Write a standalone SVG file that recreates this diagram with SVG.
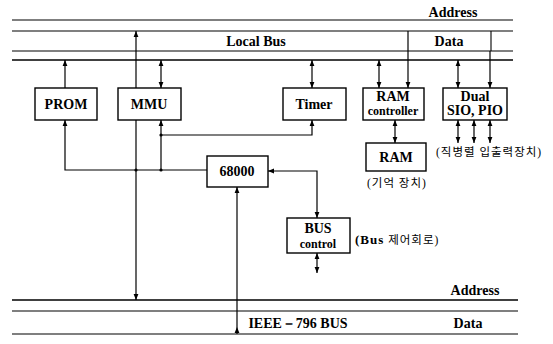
<svg xmlns="http://www.w3.org/2000/svg" width="553" height="344" viewBox="0 0 553 344">
<style>
.bg{fill:#fff}
.box{fill:#fff;stroke:#000;stroke-width:1.4}
.bus{stroke:#000;stroke-width:1.1;fill:none}
.busb{stroke:#000;stroke-width:1.7;fill:none}
.c{stroke:#000;stroke-width:1.2;fill:none}
.t{font-family:"Liberation Serif",serif;font-weight:bold;font-size:14px;fill:#000;text-anchor:middle}
.s{font-family:"Liberation Serif",serif;font-weight:bold;font-size:12px;fill:#000;text-anchor:middle}
.k{font-family:"Liberation Serif","Noto Sans CJK KR",serif;font-size:11.5px;fill:#000;letter-spacing:1px}
</style>
<defs>
<marker id="a" viewBox="0 0 6 6" refX="6" refY="3" markerWidth="6" markerHeight="6" markerUnits="userSpaceOnUse" orient="auto-start-reverse">
<path d="M0,0.6 L6,3 L0,5.4 z" fill="#000"/>
</marker>
</defs>
<rect class="bg" x="0" y="0" width="553" height="344"/>
<g id="buses">
<line class="bus" x1="12" y1="20" x2="513" y2="20"/>
<line class="bus" x1="12" y1="31" x2="513" y2="31"/>
<line class="bus" x1="12" y1="51" x2="513" y2="51"/>
<line class="busb" x1="12" y1="60" x2="513" y2="60"/>
<line class="bus" x1="491" y1="31" x2="491" y2="51"/>
<line class="busb" x1="12" y1="300" x2="518" y2="300"/>
<line class="bus" x1="12" y1="311" x2="518" y2="311"/>
<line class="bus" x1="12" y1="334" x2="518" y2="334"/>
<text class="t" x="453" y="17">Address</text>
<text class="t" x="256" y="46">Local Bus</text>
<text class="t" x="449" y="46">Data</text>
<text class="t" x="475" y="295">Address</text>
<text class="t" x="298" y="328">IEEE－796  BUS</text>
<text class="t" x="468" y="328">Data</text>
</g>
<g id="connectors">
<path class="c" d="M136,31 V300" marker-start="url(#a)" marker-end="url(#a)"/>
<path class="c" d="M65,60 V88" marker-start="url(#a)"/>
<path class="c" d="M65,120 V170 H207" marker-start="url(#a)"/>
<path class="c" d="M161,60 V88" marker-start="url(#a)" marker-end="url(#a)"/>
<path class="c" d="M161,120 V170" marker-start="url(#a)"/>
<path class="c" d="M312,60 V88" marker-start="url(#a)" marker-end="url(#a)"/>
<path class="c" d="M312,120 V135 H161" marker-start="url(#a)"/>
<path class="c" d="M379,60 V88" marker-start="url(#a)" marker-end="url(#a)"/>
<path class="c" d="M408,31 V88" marker-end="url(#a)"/>
<path class="c" d="M458,60 V88" marker-start="url(#a)" marker-end="url(#a)"/>
<path class="c" d="M490,51 V88" marker-end="url(#a)"/>
<path class="c" d="M395,120 V143" marker-start="url(#a)" marker-end="url(#a)"/>
<path class="c" d="M458,120 V143" marker-start="url(#a)" marker-end="url(#a)"/>
<path class="c" d="M474,120 V143" marker-start="url(#a)" marker-end="url(#a)"/>
<path class="c" d="M490,120 V143" marker-start="url(#a)" marker-end="url(#a)"/>
<path class="c" d="M268,171 H317 V218" marker-start="url(#a)" marker-end="url(#a)"/>
<path class="c" d="M317,253 V273" marker-start="url(#a)" marker-end="url(#a)"/>
<path class="c" d="M237,334 V187" marker-end="url(#a)"/>
<path d="M237,327 L239.4,333 L234.6,333 z" fill="#000"/>
<circle cx="161" cy="135" r="1.6" fill="#000"/>
<circle cx="161" cy="170" r="1.6" fill="#000"/>
<circle cx="136" cy="170" r="1.6" fill="#000"/>
</g>
<g id="prom"><rect class="box" x="35" y="88" width="62" height="32"/><text class="t" x="66" y="109">PROM</text></g>
<g id="mmu"><rect class="box" x="118" y="88" width="63" height="32"/><text class="t" x="149" y="109">MMU</text></g>
<g id="timer"><rect class="box" x="283" y="88" width="63" height="32"/><text class="t" x="314" y="109">Timer</text></g>
<g id="ramctrl"><rect class="box" x="363" y="88" width="61" height="32"/><text class="t" x="393" y="101">RAM</text><text class="s" x="393" y="115">controller</text></g>
<g id="dual"><rect class="box" x="443" y="88" width="64" height="32"/><text class="t" x="475" y="101">Dual</text><text class="t" x="475" y="115">SIO, PIO</text></g>
<g id="cpu"><rect class="box" x="207" y="156" width="61" height="31"/><text class="t" x="237" y="176">68000</text></g>
<g id="ram"><rect class="box" x="366" y="143" width="60" height="28"/><text class="t" x="396" y="162">RAM</text><text class="k" x="367" y="187">(기억 장치)</text></g>
<g id="sio-note"><text class="k" x="436" y="156">(직병렬 입출력장치)</text></g>
<g id="busctrl"><rect class="box" x="287" y="218" width="63" height="35"/><text class="t" x="318" y="233">BUS</text><text class="s" x="318" y="248">control</text><text class="k" x="355" y="244"><tspan font-weight="bold" font-size="13px">(Bus</tspan>  제어회로)</text></g>
</svg>
